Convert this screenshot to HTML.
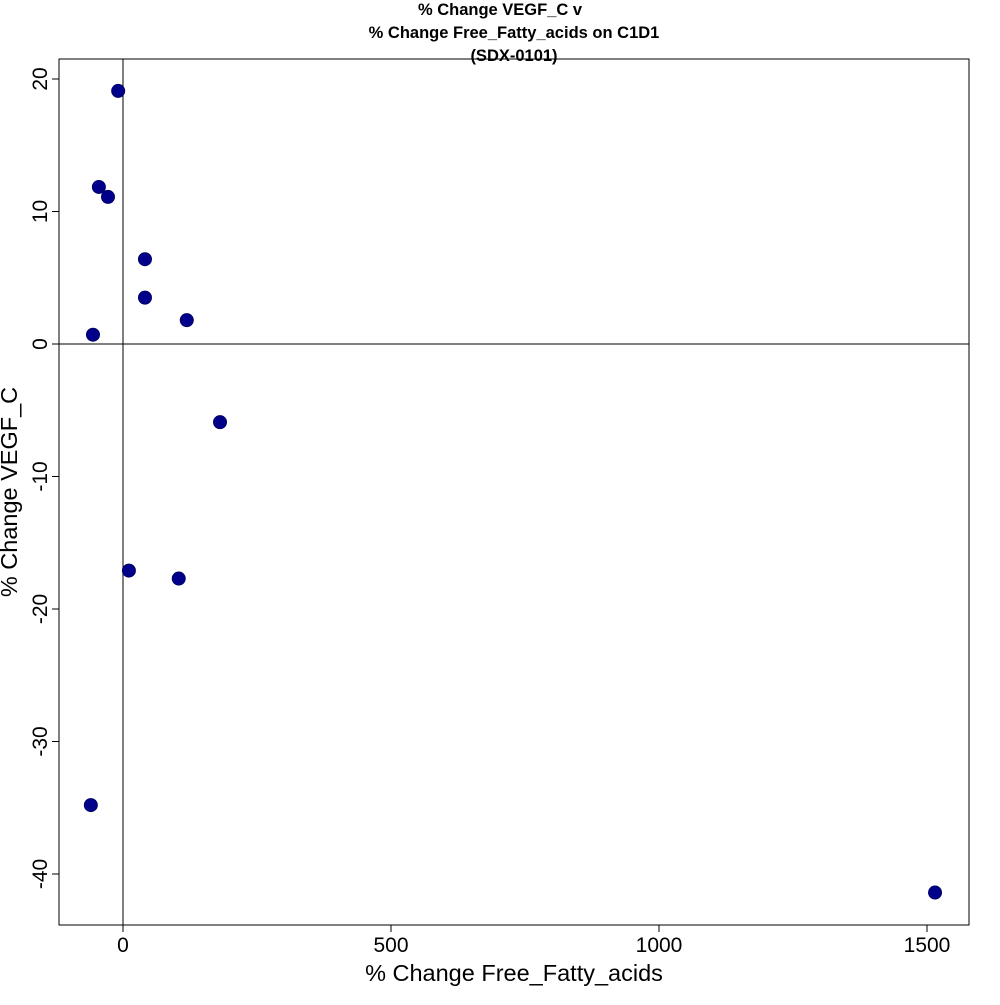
<!DOCTYPE html>
<html><head><meta charset="utf-8"><style>
body{margin:0;background:#fff;}
svg text{font-family:"Liberation Sans",sans-serif;}
</style></head><body>
<svg width="1000" height="1000">
<text x="500" y="15" text-anchor="middle" font-size="16.5" font-weight="bold">% Change VEGF_C v</text>
<text x="514" y="38" text-anchor="middle" font-size="16.5" font-weight="bold">% Change Free_Fatty_acids on C1D1</text>
<text x="514" y="61" text-anchor="middle" font-size="16.5" font-weight="bold">(SDX-0101)</text>
<rect x="59" y="59" width="910" height="866" fill="none" stroke="#000"/>
<g id="axes"></g>
<g id="pts"></g>
<text x="514" y="981" text-anchor="middle" font-size="23.5">% Change Free_Fatty_acids</text>
<text transform="translate(17,492) rotate(-90)" text-anchor="middle" font-size="23.5">% Change VEGF_C</text>
</svg>
<script>
const xVals=[-9,-45,-28,41,41,119,-56,181,11,104,-60,1515];
const yVals=[19.1,11.85,11.1,6.4,3.5,1.8,0.7,-5.9,-17.1,-17.7,-34.8,-41.4];
const xTicks=[0,500,1000,1500];
const yTicks=[20,10,0,-10,-20,-30,-40];
const sx=v=>123+v*0.536;
const sy=v=>344-v*13.25;
const NS="http://www.w3.org/2000/svg";
const ax=document.getElementById('axes'),pg=document.getElementById('pts');
function mk(t,a,p){const e=document.createElementNS(NS,t);for(const k in a)e.setAttribute(k,a[k]);p.appendChild(e);return e;}
let l=mk('line',{x1:sx(0),x2:sx(0),y1:59,y2:925,stroke:'#000'},ax);


l=mk('line',{x1:59,x2:969,y1:sy(0),y2:sy(0),stroke:'#000'},ax);


xTicks.forEach(v=>{
 const t=mk('line',{x1:sx(v),x2:sx(v),y1:925,y2:932,stroke:'#000'},ax);
 
 
 const tx=mk('text',{x:sx(v),y:952,'text-anchor':'middle','font-size':21},ax);
 tx.textContent=v;
 
 
});
yTicks.forEach(v=>{
 const t=mk('line',{x1:52,x2:59,y1:sy(v),y2:sy(v),stroke:'#000'},ax);
 
 
 const tx=mk('text',{transform:`translate(47,${sy(v)}) rotate(-90)`,'text-anchor':'middle','font-size':21},ax);
 tx.textContent=v;
 
 
});
xVals.forEach((v,i)=>{
 const c=mk('circle',{cx:sx(v),cy:sy(yVals[i]),r:6.5,fill:'#00008B',stroke:'#000066'},pg);
 
 
});
</script>
</body></html>
